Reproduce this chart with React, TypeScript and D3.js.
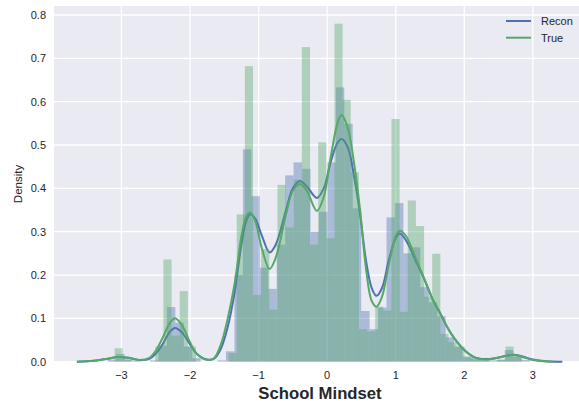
import React from "react";
import * as d3 from "d3";

// histogram bins (density), 50 bins each
const reconBinStart = -3.2;
const reconBinWidth = 0.1232;
const reconHist = [
  0.005, 0.018, 0.004, 0.002, 0.0, 0.003, 0.037, 0.126, 0.09, 0.035,
  0.008, 0.0, 0.0, 0.003, 0.024, 0.2, 0.49, 0.382, 0.217, 0.168,
  0.27, 0.43, 0.46, 0.445, 0.3, 0.346, 0.46, 0.633, 0.549, 0.354,
  0.117, 0.075, 0.125, 0.333, 0.366, 0.25, 0.264, 0.172, 0.137, 0.105,
  0.056, 0.035, 0.012, 0.008, 0.004, 0.003, 0.004, 0.027, 0.012, 0.004,
];

const trueBinStart = -3.101;
const trueBinWidth = 0.1188;
const trueHist = [
  0.031, 0.008, 0.0, 0.0, 0.0, 0.035, 0.236, 0.06, 0.163, 0.035,
  0.0, 0.0, 0.0, 0.0, 0.02, 0.34, 0.682, 0.154, 0.26, 0.12,
  0.408, 0.31, 0.42, 0.726, 0.27, 0.506, 0.285, 0.78, 0.604, 0.437,
  0.075, 0.07, 0.127, 0.118, 0.56, 0.115, 0.372, 0.313, 0.15, 0.249,
  0.064, 0.045, 0.035, 0.01, 0.005, 0.003, 0.0, 0.005, 0.035, 0.015,
];

// kde curves
const reconKdeX = [
  -3.65, -3.4, -3.2, -3.05, -2.9, -2.75, -2.6, -2.5, -2.4, -2.3, -2.22, -2.12, -2.0, -1.9, -1.75,
  -1.65, -1.55, -1.45, -1.35, -1.25, -1.18, -1.12, -1.05, -0.95, -0.84, -0.75, -0.6, -0.5, -0.4,
  -0.3, -0.15, -0.05, 0.05, 0.15, 0.21, 0.3, 0.4, 0.48, 0.57, 0.65, 0.72, 0.8, 0.9, 1.0, 1.06,
  1.15, 1.3, 1.42, 1.55, 1.65, 1.75, 1.85, 2.0, 2.15, 2.3, 2.45, 2.6, 2.72, 2.85, 3.0, 3.2, 3.43,
];
const reconKdeY = [
  0.0, 0.002, 0.007, 0.011, 0.009, 0.004, 0.006, 0.018, 0.04, 0.068, 0.078, 0.068, 0.04, 0.018, 0.005,
  0.007, 0.03, 0.08, 0.16, 0.27, 0.325, 0.34, 0.33, 0.29, 0.252, 0.27, 0.35, 0.4, 0.417,
  0.405, 0.378, 0.4, 0.46, 0.505, 0.514, 0.495, 0.42, 0.34, 0.23, 0.17, 0.152, 0.17, 0.235, 0.285, 0.296,
  0.28, 0.23, 0.189, 0.14, 0.112, 0.08, 0.055, 0.027, 0.01, 0.006, 0.008, 0.013, 0.016, 0.012, 0.005, 0.001, 0.0,
];

const trueKdeX = [
  -3.65, -3.4, -3.2, -3.05, -2.9, -2.75, -2.6, -2.5, -2.4, -2.3, -2.22, -2.12, -2.0, -1.9, -1.75,
  -1.65, -1.55, -1.45, -1.35, -1.25, -1.18, -1.12, -1.05, -0.95, -0.84, -0.75, -0.6, -0.5, -0.4,
  -0.3, -0.15, -0.05, 0.05, 0.15, 0.21, 0.3, 0.4, 0.48, 0.57, 0.65, 0.72, 0.8, 0.9, 1.0, 1.06,
  1.15, 1.3, 1.42, 1.55, 1.65, 1.75, 1.85, 2.0, 2.15, 2.3, 2.45, 2.6, 2.72, 2.85, 3.0, 3.3,
];
const trueKdeY = [
  0.0, 0.002, 0.007, 0.011, 0.009, 0.004, 0.008, 0.025, 0.055, 0.088, 0.1, 0.085, 0.045, 0.018, 0.004,
  0.008, 0.04, 0.1, 0.18, 0.29, 0.335, 0.344, 0.325, 0.26, 0.214, 0.24, 0.34, 0.395, 0.41,
  0.395, 0.348, 0.38, 0.47, 0.55, 0.569, 0.54, 0.45, 0.35, 0.21, 0.14, 0.127, 0.15, 0.225, 0.29, 0.302,
  0.29, 0.235, 0.19, 0.14, 0.11, 0.08, 0.055, 0.027, 0.01, 0.005, 0.008, 0.013, 0.016, 0.011, 0.004, 0.0,
];

const xTicks = [-3, -2, -1, 0, 1, 2, 3];
const yTicks = [0, 0.1, 0.2, 0.3, 0.4, 0.5, 0.6, 0.7, 0.8];
const seriesNames = ["Recon", "True"];

const W = 579;
const H = 408;
const blue = "#4C72B0";
const green = "#55A868";
const font = "'Liberation Sans', Arial, sans-serif";

const fmtX = (v: number) => (v < 0 ? "\u2212" + Math.abs(v) : String(v));

const App = () => {
  const x = d3.scaleLinear().domain([-3.984, 3.8]).range([54, 587.7]);
  const y = d3.scaleLinear().domain([0, 0.8208]).range([361.7, 6]);

  const line = d3
    .line<[number, number]>()
    .x((d) => x(d[0]))
    .y((d) => y(d[1]))
    .curve(d3.curveCatmullRom.alpha(0.5));

  const bars = (vals: number[], start: number, w: number, color: string, key: string) =>
    vals.map((v, i) => {
      const x0 = x(start + i * w);
      const x1 = x(start + (i + 1) * w);
      return (
        <rect
          key={key + i}
          x={x0}
          width={x1 - x0}
          y={y(v)}
          height={y(0) - y(v)}
          fill={color}
          fillOpacity={0.4}
        />
      );
    });

  const reconPts = reconKdeX.map((v, i) => [v, reconKdeY[i]] as [number, number]);
  const truePts = trueKdeX.map((v, i) => [v, trueKdeY[i]] as [number, number]);

  return (
    <svg
      width={W}
      height={H}
      style={{ position: "absolute", left: 0, top: 0, background: "#fff" }}
      fontFamily={font}
    >
      <rect x={54} y={6} width={587.7 - 54} height={361.7 - 6} fill="#EAEAF2" />
      {xTicks.map((t) => (
        <line key={"gx" + t} x1={x(t)} x2={x(t)} y1={6} y2={361.7} stroke="#fff" strokeWidth={1.3} />
      ))}
      {yTicks.map((t) => (
        <line key={"gy" + t} x1={54} x2={587.7} y1={y(t)} y2={y(t)} stroke="#fff" strokeWidth={1.3} />
      ))}

      {bars(reconHist, reconBinStart, reconBinWidth, blue, "r")}
      <path d={line(reconPts) || ""} fill="none" stroke={blue} strokeWidth={2} />
      {bars(trueHist, trueBinStart, trueBinWidth, green, "t")}
      <path d={line(truePts) || ""} fill="none" stroke={green} strokeWidth={2} />

      {xTicks.map((t) => (
        <text key={"tx" + t} x={x(t)} y={375} textAnchor="middle" dominantBaseline="central" fontSize={11} fill="#262626">
          {fmtX(t)}
        </text>
      ))}
      {yTicks.map((t) => (
        <text key={"ty" + t} x={46} y={y(t)} textAnchor="end" dominantBaseline="central" fontSize={11} fill="#262626">
          {t.toFixed(1)}
        </text>
      ))}

      <text x={320} y={393} textAnchor="middle" dominantBaseline="central" fontSize={16.7} fontWeight="bold" fill="#262626">
        School Mindset
      </text>
      <text
        transform={`translate(18,184) rotate(-90)`}
        textAnchor="middle"
        dominantBaseline="central"
        fontSize={11.5}
        fill="#262626"
      >
        Density
      </text>

      {seriesNames.map((name, i) => (
        <g key={name} transform={`translate(506,${21 + i * 16.7})`}>
          <line x1={0} x2={25} y1={0} y2={0} stroke={i === 0 ? blue : green} strokeWidth={2} />
          <text x={35} y={0} dominantBaseline="central" fontSize={11} fill="#262626">
            {name}
          </text>
        </g>
      ))}
    </svg>
  );
};

export default App;
